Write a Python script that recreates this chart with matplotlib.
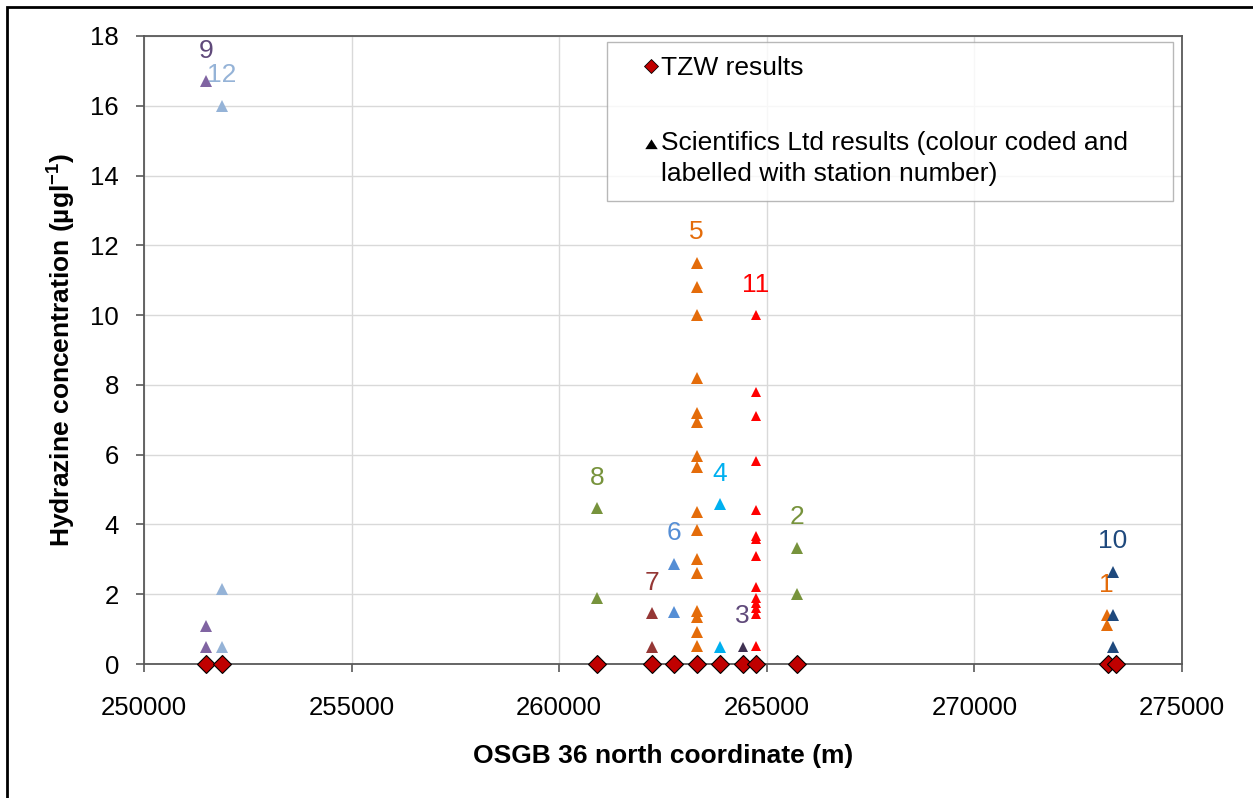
import matplotlib.pyplot as plt
from matplotlib.lines import Line2D
from matplotlib.patches import Rectangle
from matplotlib.path import Path

plt.rcParams['font.family'] = ['Liberation Sans', 'DejaVu Sans']
plt.rcParams['mathtext.default'] = 'regular'

# TZW results (all at zero)
tzw_x = [251500, 251880, 260920, 262230, 262770, 263310, 263870, 264420,
         264740, 265720, 273230, 273400]
tzw_y = [0] * len(tzw_x)

# Scientifics Ltd results per station
station_ids = ['1', '2', '3', '4', '5', '6', '7', '8', '9', '10', '11', '12']
station_x = [273190, 265720, 264420, 263870, 263310, 262770, 262230, 260920,
             251500, 273340, 264740, 251880]
station_values = [
    [1.40, 1.12],
    [3.33, 2.0],
    [0.5],
    [4.58, 0.5],
    [11.5, 10.8, 10.0, 8.2, 7.2, 6.95, 5.95, 5.65, 4.35, 3.85, 3.0, 2.6,
     1.52, 1.35, 0.92, 0.52],
    [2.87, 1.5],
    [1.45, 0.5],
    [4.47, 1.9],
    [16.7, 1.1, 0.5],
    [2.65, 1.40, 0.5],
    [10.0, 7.8, 7.12, 5.83, 4.4, 3.67, 3.57, 3.1, 2.22, 1.9, 1.75, 1.6,
     1.42, 0.52],
    [16.0, 2.15, 0.5],
]
station_colors = ['#E46C0A', '#77933C', '#403152', '#00B0F0', '#E46C0A',
                  '#558ED5', '#953735', '#77933C', '#8064A2', '#1F497D',
                  '#FF0000', '#95B3D7']
label_colors = list(station_colors)
label_colors[2] = '#5F497A'
label_colors[8] = '#5F497A'
small = {'3', '11'}

fig = plt.figure(figsize=(12.53, 7.98), dpi=100)
ax = fig.add_axes([0.1149, 0.1679, 0.8284, 0.7870])

for sid, x, vals, c, lc in zip(station_ids, station_x, station_values,
                               station_colors, label_colors):
    ms = 6.5 if sid in small else 8.5
    ax.plot([x] * len(vals), vals, linestyle='none', marker='^', ms=ms,
            color=c, markeredgewidth=0, clip_on=False, zorder=3)
    ax.annotate(sid, (x, max(vals)), xytext=(0, 22), textcoords='offset points',
                ha='center', va='center', fontsize=19, color=lc)

ax.plot(tzw_x, tzw_y, linestyle='none', marker='D', ms=9, color='#C00000',
        markeredgecolor='black', markeredgewidth=0.8, clip_on=False, zorder=4)

ax.set_xlim(250000, 275000)
ax.set_ylim(0, 18)
ax.set_xticks(range(250000, 275001, 5000))
ax.set_yticks(range(0, 19, 2))
ax.grid(True, color='#D9D9D9', linewidth=1)
ax.set_axisbelow(True)
for s in ax.spines.values():
    s.set_color('#595959')
    s.set_linewidth(1.3)
ax.tick_params(direction='out', length=6, width=1.2, color='#595959',
               labelsize=18.5, pad=12)
ax.tick_params(axis='x', pad=17)

ax.set_xlabel('OSGB 36 north coordinate (m)', fontsize=19, fontweight='bold')
ax.set_ylabel('Hydrazine concentration (µgl$^{-1}$)', fontsize=19,
              fontweight='bold')
ax.xaxis.set_label_coords(0.5, -0.128)
ax.yaxis.set_label_coords(-0.064, 0.5)

# legend triangle sits beside the first line of its two-line label
tri_up = Path([(-0.7, 1.16), (0.7, 1.16), (0, 2.26), (-0.7, 1.16)], closed=True)
handles = [
    Line2D([], [], linestyle='none', marker='D', ms=7, color='#C00000',
           markeredgecolor='black', markeredgewidth=0.6),
    Line2D([], [], linestyle='none', marker=tri_up, ms=29, color='black',
           markeredgewidth=0),
]
labels = ['TZW results',
          'Scientifics Ltd results (colour coded and\nlabelled with station number)']
leg = ax.legend(handles, labels, loc='upper left',
                bbox_to_anchor=(0.4844, 0.5, 0.4517, 0.4474),
                bbox_transform=fig.transFigure, mode='expand',
                borderaxespad=0, fancybox=False, fontsize=19,
                handlelength=2.27, handletextpad=-0.76, labelspacing=1.9,
                borderpad=0.55)
for t in leg.get_texts():
    t.set_linespacing(1.4)
leg.get_frame().set_edgecolor('#A6A6A6')
leg.get_frame().set_linewidth(1.0)

fig.add_artist(Rectangle((7 / 1253, -1), 2, 1 + 1 - 7 / 798,
                         transform=fig.transFigure, fill=False,
                         edgecolor='black', linewidth=2))

fig.savefig('out.png', dpi=100)
